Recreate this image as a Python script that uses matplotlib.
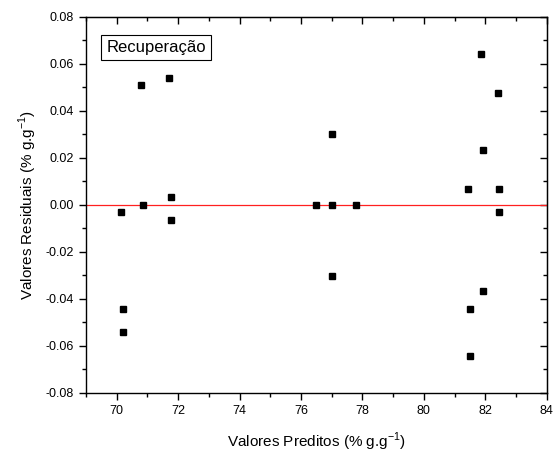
import matplotlib.pyplot as plt
from matplotlib.ticker import MultipleLocator

# predicted values and residuals
preditos = [70.81, 71.70, 70.15, 70.87, 71.76, 71.76, 70.20, 70.20,
            81.87, 82.40, 77.02, 81.92, 81.45, 82.44, 76.50, 77.02,
            77.78, 82.45, 77.02, 81.92, 81.49, 81.49]
residuos = [0.0509, 0.0542, -0.0031, 0.0, 0.0033, -0.0065, -0.0443, -0.0542,
            0.0644, 0.0475, 0.0301, 0.0234, 0.0068, 0.0068, 0.0, 0.0,
            0.0, -0.0031, -0.0301, -0.0366, -0.0441, -0.0641]

plt.rcParams['font.family'] = ['Liberation Sans', 'DejaVu Sans']

fig = plt.figure(figsize=(5.54, 4.54), dpi=100)
ax = fig.add_axes([0.155, 0.1344, 0.832, 0.8282])

ax.axhline(0, color='#ff2020', lw=0.9, zorder=1)
ax.plot(preditos, residuos, 's', color='black', ms=5, zorder=2)

ax.set_xlim(69, 84)
ax.set_ylim(-0.08, 0.08)
ax.xaxis.set_major_locator(MultipleLocator(2))
ax.xaxis.set_minor_locator(MultipleLocator(1))
ax.yaxis.set_major_locator(MultipleLocator(0.02))
ax.yaxis.set_minor_locator(MultipleLocator(0.01))
ax.yaxis.set_major_formatter(plt.FormatStrFormatter('%.2f'))

ax.tick_params(which='both', direction='out', labelsize=9, width=1)
ax.tick_params(which='major', length=5)
ax.tick_params(which='minor', length=3)
for sp in ax.spines.values():
    sp.set_linewidth(1)

# mirrored ticks on top/right pointing inward
top = ax.secondary_xaxis('top')
top.set_xticks(range(70, 85, 2))
top.xaxis.set_minor_locator(MultipleLocator(1))
top.tick_params(which='both', direction='in', labeltop=False, width=1)
top.tick_params(which='major', length=5)
top.tick_params(which='minor', length=3)
right = ax.secondary_yaxis('right')
right.yaxis.set_major_locator(MultipleLocator(0.02))
right.yaxis.set_minor_locator(MultipleLocator(0.01))
right.tick_params(which='both', direction='in', labelright=False, width=1)
right.tick_params(which='major', length=5)
right.tick_params(which='minor', length=3)

ax.set_xlabel('Valores Preditos (% g.g$^{\\mathregular{-1}}$)', fontsize=11, labelpad=10)
ax.set_ylabel('Valores Residuais (% g.g$^{\\mathregular{-1}}$)', fontsize=11, labelpad=5)

ax.text(0.044, 0.919, 'Recuperação', transform=ax.transAxes, fontsize=12,
        va='center', ha='left',
        bbox=dict(boxstyle='square,pad=0.3', fc='white', ec='black', lw=0.8))

fig.savefig('out.png', dpi=100)
